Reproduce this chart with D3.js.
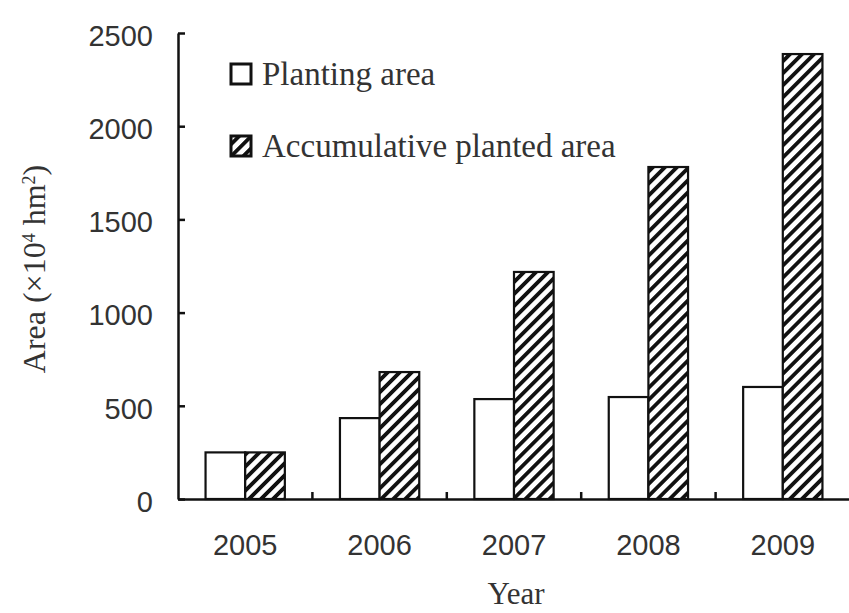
<!DOCTYPE html>
<html><head><meta charset="utf-8">
<script src="https://cdn.jsdelivr.net/npm/d3@7"></script>
<style>body{margin:0;background:#fff}</style>
</head><body>
<svg id="c" width="849" height="613"></svg>
<script>
const years = ["2005","2006","2007","2008","2009"];
const plantingArea = [250, 434, 536, 547, 601];
const accumulativeArea = [250, 681, 1218, 1781, 2387];
const yTicks = [0, 500, 1000, 1500, 2000, 2500];
const seriesNames = ["Planting area", "Accumulative planted area"];

const svg = d3.select("#c");
const mLeft = 178, mRight = 850, mTop = 33, mBottom = 499;
const y = d3.scaleLinear().domain([0, 2500]).range([mBottom, mTop]);
const x = d3.scaleBand().domain(years).range([mLeft, mRight]).paddingInner(0.41).paddingOuter(0.205);
const sub = d3.scaleBand().domain([0, 1]).range([0, x.bandwidth()]);

const defs = svg.append("defs");
const pat = defs.append("pattern").attr("id", "hatch").attr("patternUnits", "userSpaceOnUse")
  .attr("width", 8.5).attr("height", 8.5).attr("patternTransform", "rotate(45)");
pat.append("rect").attr("width", 8.5).attr("height", 8.5).attr("fill", "#fff");
pat.append("rect").attr("x", 0).attr("width", 3.8).attr("height", 8.5).attr("fill", "#111");

const data = years.map((yr, i) => ({yr, v: [plantingArea[i], accumulativeArea[i]]}));
const g = svg.append("g");
data.forEach(d => {
  d.v.forEach((v, j) => {
    g.append("rect")
      .attr("x", x(d.yr) + sub(j))
      .attr("y", y(v))
      .attr("width", sub.bandwidth())
      .attr("height", y(0) - y(v))
      .attr("fill", j === 0 ? "#fff" : "url(#hatch)")
      .attr("stroke", "#111").attr("stroke-width", 2.2);
  });
});

// Y axis
const yAxis = svg.append("g").attr("transform", `translate(${mLeft},0)`)
  .call(d3.axisLeft(y).tickValues(yTicks).tickFormat(d3.format("d")).tickSize(-7).tickPadding(25).tickSizeOuter(0));
yAxis.select(".domain").attr("stroke", "#111").attr("stroke-width", 2.5);
yAxis.selectAll(".tick line").attr("stroke", "#111").attr("stroke-width", 2.5);
yAxis.selectAll(".tick text").attr("font-family", "Liberation Sans, Arial, sans-serif")
  .attr("font-size", 29).attr("fill", "#333").attr("y", 3);

// X axis
const xAxis = svg.append("g").attr("transform", `translate(0,${mBottom})`)
  .call(d3.axisBottom(x).tickSize(0).tickPadding(35).tickSizeOuter(0));
xAxis.select(".domain").attr("stroke", "#111").attr("stroke-width", 2.5);
xAxis.selectAll(".tick text").attr("font-family", "Liberation Sans, Arial, sans-serif")
  .attr("font-size", 29).attr("fill", "#333");
// separator ticks between groups
const step = x.step();
years.slice(1).forEach((yr) => {
  const sx = x(yr) - (step - x.bandwidth()) / 2;
  svg.append("line").attr("x1", sx).attr("x2", sx).attr("y1", mBottom).attr("y2", mBottom - 7)
    .attr("stroke", "#111").attr("stroke-width", 2.5);
});

// Axis titles
svg.append("text").attr("x", 516).attr("y", 604).attr("text-anchor", "middle")
  .attr("font-family", "Liberation Serif, Times New Roman, serif").attr("font-size", 31)
  .attr("fill", "#333").text("Year");
const yt = svg.append("text").attr("transform", "translate(45,269) rotate(-90)")
  .attr("text-anchor", "middle")
  .attr("font-family", "Liberation Serif, Times New Roman, serif").attr("font-size", 32).attr("fill", "#333");
yt.append("tspan").text("Area (×10");
yt.append("tspan").attr("baseline-shift", "super").attr("font-size", 18).text("4");
yt.append("tspan").text(" hm");
yt.append("tspan").attr("baseline-shift", "super").attr("font-size", 18).text("2");
yt.append("tspan").text(")");

// Legend
const leg = svg.append("g");
seriesNames.forEach((n, i) => {
  const ly = 64 + i * 72;
  leg.append("rect").attr("x", 231).attr("y", ly).attr("width", 20).attr("height", 20)
    .attr("fill", i === 0 ? "#fff" : "url(#hatch)").attr("stroke", "#111").attr("stroke-width", 3);
  leg.append("text").attr("x", 262).attr("y", ly + 21)
    .attr("font-family", "Liberation Serif, Times New Roman, serif").attr("font-size", 33)
    .attr("fill", "#333").text(n);
});
</script>
</body></html>
